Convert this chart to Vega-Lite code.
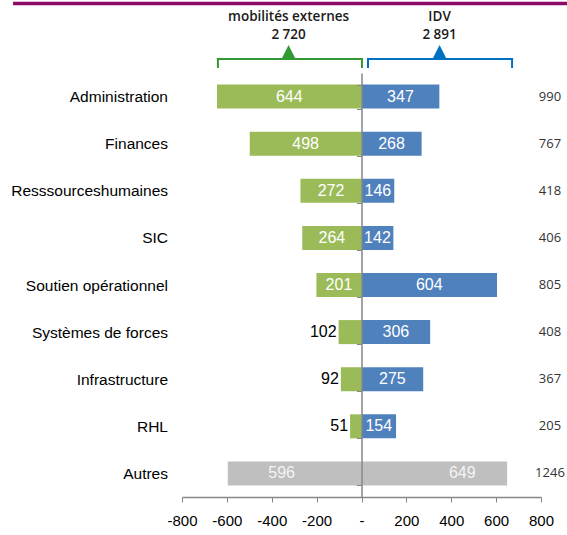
{
  "$schema": "https://vega.github.io/schema/vega-lite/v6.json",
  "width": 359,
  "height": 424,
  "autosize": {"type": "none"},
  "padding": {"left": 182, "top": 73, "right": 26, "bottom": 38},
  "background": "white",
  "config": {"view": {"stroke": null}, "font": "Liberation Sans"},
  "datasets": {
    "effectifs": [
      {"categorie": "Administration", "mobilites": 644, "idv": 347, "total": 990},
      {"categorie": "Finances", "mobilites": 498, "idv": 268, "total": 767},
      {"categorie": "Resssourceshumaines", "mobilites": 272, "idv": 146, "total": 418},
      {"categorie": "SIC", "mobilites": 264, "idv": 142, "total": 406},
      {"categorie": "Soutien opérationnel", "mobilites": 201, "idv": 604, "total": 805},
      {"categorie": "Systèmes de forces", "mobilites": 102, "idv": 306, "total": 408},
      {"categorie": "Infrastructure", "mobilites": 92, "idv": 275, "total": 367},
      {"categorie": "RHL", "mobilites": 51, "idv": 154, "total": 205},
      {"categorie": "Autres", "mobilites": 596, "idv": 649, "total": 1246}
    ],
    "entete": [
      {"groupe": "mobilités externes", "total": "2 720", "debut": -640, "fin": 2, "centre": -325},
      {"groupe": "IDV", "total": "2 891", "debut": 29, "fin": 671, "centre": 348}
    ],
    "bandeau": [
      {"trait": "bandeau", "debut": -1553, "fin": 916}
    ]
  },
  "layer": [
    {
      "data": {"name": "effectifs"},
      "encoding": {
        "y": {
          "field": "categorie", "type": "nominal", "sort": null,
          "scale": {
            "domain": ["Administration", "Finances", "Resssourceshumaines", "SIC", "Soutien opérationnel", "Systèmes de forces", "Infrastructure", "RHL", "Autres"],
            "paddingInner": 0.49, "paddingOuter": 0.245
          },
          "axis": {
            "orient": "left", "offset": -179.5, "title": null,
            "domainColor": "#868686", "domainWidth": 1.5,
            "tickColor": "#868686", "tickSize": 5, "tickBand": "extent",
            "labelFont": "Liberation Sans", "labelFontSize": 15.5, "labelColor": "black",
            "labelPadding": 189, "zindex": 1
          }
        }
      },
      "layer": [
        {
          "mark": {"type": "bar"},
          "encoding": {
            "x": {
              "field": "idv", "type": "quantitative",
              "scale": {"domain": [-800, 800]},
              "axis": {
                "values": [-800, -600, -400, -200, 0, 200, 400, 600, 800],
                "labelExpr": "datum.value == 0 ? '-' : replace(datum.label, '\u2212', '-')",
                "labelOverlap": false, "labelBound": false, "labelFlush": false,
                "title": null, "grid": false,
                "domainColor": "#868686", "domainWidth": 1.5,
                "tickColor": "#868686", "tickSize": 5,
                "labelFont": "Liberation Sans", "labelFontSize": 15, "labelColor": "black",
                "labelPadding": 11
              }
            },
            "x2": {"datum": 0},
            "color": {"condition": {"test": "datum.categorie === 'Autres'", "value": "#BFBFBF"}, "value": "#4F81BD"}
          }
        },
        {
          "mark": {"type": "text", "font": "Open Sans", "fontSize": 13, "color": "#333333", "align": "center"},
          "encoding": {
            "x": {"datum": 840},
            "text": {"field": "total", "type": "quantitative", "format": "d"}
          }
        }
      ]
    },
    {
      "data": {"name": "effectifs"},
      "encoding": {
        "y": {
          "field": "categorie", "type": "nominal", "sort": null,
          "scale": {
            "domain": ["Administration", "Finances", "Resssourceshumaines", "SIC", "Soutien opérationnel", "Systèmes de forces", "Infrastructure", "RHL", "Autres"],
            "paddingInner": 0.49, "paddingOuter": 0.245
          },
          "axis": null
        },
        "x": {"field": "mobilites", "type": "quantitative", "scale": {"domain": [-800, 800], "reverse": true}, "axis": null}
      },
      "layer": [
        {
          "mark": {"type": "bar"},
          "encoding": {
            "x2": {"datum": 0},
            "color": {"condition": {"test": "datum.categorie === 'Autres'", "value": "#BFBFBF"}, "value": "#9BBB59"}
          }
        },
        {
          "transform": [{"filter": "datum.mobilites < 150"}],
          "mark": {"type": "text", "fontSize": 16, "color": "black", "align": "right", "dx": -2},
          "encoding": {"text": {"field": "mobilites", "type": "quantitative"}}
        }
      ]
    },
    {
      "data": {"name": "effectifs"},
      "encoding": {
        "y": {
          "field": "categorie", "type": "nominal", "sort": null,
          "scale": {
            "domain": ["Administration", "Finances", "Resssourceshumaines", "SIC", "Soutien opérationnel", "Systèmes de forces", "Infrastructure", "RHL", "Autres"],
            "paddingInner": 0.49, "paddingOuter": 0.245
          },
          "axis": null
        },
        "x": {"field": "idv", "type": "quantitative", "scale": {"domain": [-1600, 1600]}, "axis": null},
        "text": {"field": "idv", "type": "quantitative"}
      },
      "layer": [
        {
          "transform": [{"filter": "datum.categorie !== 'Autres'"}],
          "mark": {"type": "text", "fontSize": 16, "color": "white", "align": "center"}
        },
        {
          "transform": [{"filter": "datum.categorie === 'Autres'"}],
          "mark": {"type": "text", "fontSize": 16, "color": "#F4F4F4", "align": "center", "dx": 28}
        }
      ]
    },
    {
      "data": {"name": "effectifs"},
      "encoding": {
        "y": {
          "field": "categorie", "type": "nominal", "sort": null,
          "scale": {
            "domain": ["Administration", "Finances", "Resssourceshumaines", "SIC", "Soutien opérationnel", "Systèmes de forces", "Infrastructure", "RHL", "Autres"],
            "paddingInner": 0.49, "paddingOuter": 0.245
          },
          "axis": null
        },
        "x": {"field": "mobilites", "type": "quantitative", "scale": {"domain": [-1600, 1600], "reverse": true}, "axis": null},
        "text": {"field": "mobilites", "type": "quantitative"}
      },
      "layer": [
        {
          "transform": [{"filter": "datum.categorie !== 'Autres' && datum.mobilites >= 150"}],
          "mark": {"type": "text", "fontSize": 16, "color": "white", "align": "center"}
        },
        {
          "transform": [{"filter": "datum.categorie === 'Autres'"}],
          "mark": {"type": "text", "fontSize": 16, "color": "#F4F4F4", "align": "center", "dx": -13}
        }
      ]
    },
    {
      "data": {"name": "bandeau"},
      "mark": {"type": "rule", "color": "#8C0A66", "strokeWidth": 3.5},
      "encoding": {
        "x": {"field": "debut", "type": "quantitative", "scale": {"domain": [-800, 800]}, "axis": null},
        "x2": {"field": "fin"},
        "y": {"datum": 0.952, "type": "quantitative", "scale": {"domain": [0, 1], "range": [0, -73]}, "axis": null}
      }
    },
    {
      "data": {"name": "entete"},
      "encoding": {
        "x": {"field": "centre", "type": "quantitative", "scale": {"domain": [-800, 800]}, "axis": null},
        "color": {"field": "groupe", "type": "nominal", "scale": {"domain": ["mobilités externes", "IDV"], "range": ["#339933", "#0070C0"]}, "legend": null}
      },
      "layer": [
        {
          "mark": {"type": "text", "font": "Open Sans", "fontSize": 13.5, "fontWeight": 600, "color": "#1a1a1a"},
          "encoding": {
            "y": {"datum": 0.767, "type": "quantitative", "scale": {"domain": [0, 1], "range": [0, -73]}, "axis": null},
            "text": {"field": "groupe"},
            "color": {"value": "#1a1a1a"}
          }
        },
        {
          "mark": {"type": "text", "font": "Open Sans", "fontSize": 13.5, "fontWeight": 600, "color": "#1a1a1a"},
          "encoding": {
            "y": {"datum": 0.514, "type": "quantitative"},
            "text": {"field": "total"},
            "color": {"value": "#1a1a1a"}
          }
        },
        {
          "mark": {"type": "rule", "strokeWidth": 2, "strokeCap": "square"},
          "encoding": {
            "x": {"field": "debut", "type": "quantitative"},
            "x2": {"field": "fin"},
            "y": {"datum": 0.192, "type": "quantitative"}
          }
        },
        {
          "mark": {"type": "rule", "strokeWidth": 2, "strokeCap": "square"},
          "encoding": {
            "x": {"field": "debut", "type": "quantitative"},
            "y": {"datum": 0.192, "type": "quantitative"},
            "y2": {"datum": 0.082}
          }
        },
        {
          "mark": {"type": "rule", "strokeWidth": 2, "strokeCap": "square"},
          "encoding": {
            "x": {"field": "fin", "type": "quantitative"},
            "y": {"datum": 0.192, "type": "quantitative"},
            "y2": {"datum": 0.082}
          }
        },
        {
          "mark": {"type": "point", "shape": "M-1,0L1,0L0,-2Z", "size": 196, "filled": true, "opacity": 1},
          "encoding": {
            "y": {"datum": 0.192, "type": "quantitative"}
          }
        }
      ]
    }
  ],
  "resolve": {"scale": {"x": "independent", "y": "independent", "color": "independent"}}
}
